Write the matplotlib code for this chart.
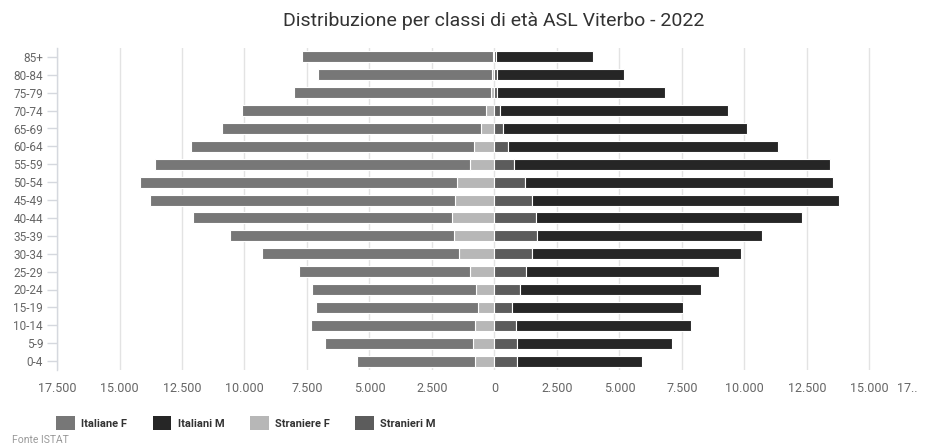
import matplotlib
matplotlib.use("Agg")
import matplotlib.pyplot as plt
import numpy as np
from matplotlib.ticker import FixedLocator
from matplotlib.patches import Patch

plt.rcParams['font.family'] = ['Roboto', 'DejaVu Sans']

ages = ['0-4', '5-9', '10-14', '15-19', '20-24', '25-29', '30-34', '35-39', '40-44',
        '45-49', '50-54', '55-59', '60-64', '65-69', '70-74', '75-79', '80-84', '85+']

# values bottom (0-4) to top (85+)
italiane_f = [4730, 5940, 6550, 6490, 6550, 6840, 7880, 8980, 10370,
              12190, 12690, 12600, 11290, 10380, 9780, 7920, 6990, 7640]
straniere_f = [770, 850, 770, 665, 730, 985, 1425, 1610, 1700,
               1585, 1490, 985, 830, 530, 320, 120, 80, 50]
italiani_m = [5000, 6180, 6980, 6870, 7240, 7700, 8350, 8990, 10620,
              12290, 12350, 12660, 10800, 9780, 9120, 6710, 5090, 3890]
stranieri_m = [905, 905, 865, 690, 1040, 1265, 1515, 1715, 1665,
               1505, 1210, 770, 545, 330, 210, 100, 100, 50]

series_names = ['Italiane F', 'Italiani M', 'Straniere F', 'Stranieri M']
colors = {'Italiane F': '#777777', 'Italiani M': '#262626',
          'Straniere F': '#b7b7b7', 'Stranieri M': '#5c5c5c'}

xticks = [-17500, -15000, -12500, -10000, -7500, -5000, -2500, 0,
          2500, 5000, 7500, 10000, 12500, 15000]

W, H = 925, 447
fig = plt.figure(figsize=(W / 100, H / 100), dpi=100)
ax = fig.add_axes([57 / W, 1 - 370 / H, (932 - 57) / W, (370 - 48) / H])

y = np.arange(len(ages))
h = 0.62
sf = np.array(straniere_f)
itf = np.array(italiane_f)
sm = np.array(stranieri_m)
itm = np.array(italiani_m)

ax.barh(y, -sf, height=h, color=colors['Straniere F'],
        edgecolor='white', linewidth=0.8, zorder=3)
ax.barh(y, -itf, left=-sf, height=h, color=colors['Italiane F'],
        edgecolor='white', linewidth=0.8, zorder=3)
ax.barh(y, sm, height=h, color=colors['Stranieri M'],
        edgecolor='white', linewidth=0.8, zorder=3)
ax.barh(y, itm, left=sm, height=h, color=colors['Italiani M'],
        edgecolor='white', linewidth=0.8, zorder=3)

ax.set_xlim(-17500, 17500)
ax.set_ylim(-0.5, len(ages) - 0.5)

ax.xaxis.set_major_locator(FixedLocator(xticks))
ax.set_xticklabels([f"{abs(v):,}".replace(',', '.') for v in xticks])
ax.grid(axis='x', color='#e3e3e3', linewidth=1, zorder=0)
ax.set_axisbelow(True)

ax.set_yticks(y)
ax.set_yticklabels(ages)

for s in ['top', 'right', 'bottom']:
    ax.spines[s].set_visible(False)
ax.spines['left'].set_color('#d5d8de')
ax.spines['left'].set_linewidth(1)

XPAD = 9
ax.tick_params(axis='y', length=7, color='#d5d8de', width=1, pad=3,
               labelsize=8.5, labelcolor='#666666')
ax.tick_params(axis='x', length=0, pad=XPAD, labelsize=9, labelcolor='#666666')

# truncated last tick label as in the original
ax.annotate('17..', xy=(16500, 0), xycoords=('data', 'axes fraction'),
            xytext=(0, -XPAD), textcoords='offset points',
            ha='center', va='top', fontsize=9, color='#666666')

fig.text(494 / W, 1 - 21 / H, 'Distribuzione per classi di età ASL Viterbo - 2022',
         ha='center', va='center', fontsize=14, color='#333333')

handles = [Patch(facecolor=colors[n], edgecolor='none') for n in series_names]
leg = fig.legend(handles, series_names, loc='center left',
                 bbox_to_anchor=(46 / W, 1 - 423 / H), ncol=4, frameon=False,
                 handlelength=1.7, handleheight=1.5, handletextpad=0.55,
                 columnspacing=2.3, prop={'weight': 'bold', 'size': 8})
for t in leg.get_texts():
    t.set_color('#333333')

fig.text(12 / W, 1 - 440 / H, 'Fonte ISTAT', ha='left', va='center',
         fontsize=7.5, color='#999999')

fig.savefig('out.png', dpi=100)
